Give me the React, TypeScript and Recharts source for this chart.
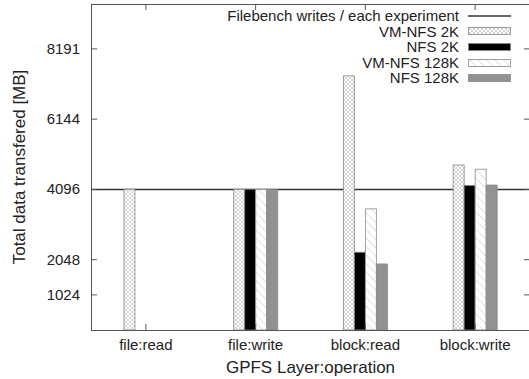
import { Bar, BarChart, ReferenceLine, XAxis, YAxis } from "recharts";

const categories = ["file:read", "file:write", "block:read", "block:write"];
const vmNfs2k = [4100, 4100, 7410, 4810];
const nfs2k = [null, 4100, 2265, 4210];
const vmNfs128k = [null, 4100, 3530, 4685];
const nfs128k = [null, 4100, 1925, 4225];
const yTicks = [1024, 2048, 4096, 6144, 8191];
const filebenchWrites = 4096;

const data = categories.map((name, i) => ({
  name,
  vmNfs2k: vmNfs2k[i],
  nfs2k: nfs2k[i],
  vmNfs128k: vmNfs128k[i],
  nfs128k: nfs128k[i],
}));

const W = 531;
const H = 379;
const PLOT_LEFT = 91;
const PLOT_TOP = 4;
const PLOT_RIGHT = 530;
const PLOT_BOTTOM = 330;

const font = '"Liberation Sans", Arial, Helvetica, sans-serif';
const textColor = "#222";
const frameColor = "#555";

const series = [
  { key: "vmNfs2k", name: "VM-NFS 2K", fill: "url(#pat-cross)" },
  { key: "nfs2k", name: "NFS 2K", fill: "#000" },
  { key: "vmNfs128k", name: "VM-NFS 128K", fill: "url(#pat-diag)" },
  { key: "nfs128k", name: "NFS 128K", fill: "#929292" },
];

function XTick({ x, y, payload }: any) {
  return (
    <g>
      <line x1={x} x2={x} y1={PLOT_BOTTOM} y2={PLOT_BOTTOM - 6} stroke={frameColor} />
      <line x1={x} x2={x} y1={PLOT_TOP} y2={PLOT_TOP + 6} stroke={frameColor} />
      <text x={x} y={y + 20} textAnchor="middle" fontSize={15} fill={textColor} fontFamily={font}>
        {payload.value}
      </text>
    </g>
  );
}

function YTick({ x, y, payload }: any) {
  return (
    <g>
      <line x1={PLOT_LEFT} x2={PLOT_LEFT + 6} y1={y} y2={y} stroke={frameColor} />
      <line x1={PLOT_RIGHT - 6} x2={PLOT_RIGHT} y1={y} y2={y} stroke={frameColor} />
      <text x={x - 11} y={y + 5} textAnchor="end" fontSize={15} fill={textColor} fontFamily={font}>
        {payload.value}
      </text>
    </g>
  );
}

function Patterns() {
  return (
    <svg width={0} height={0} style={{ position: "absolute" }}>
      <defs>
        <pattern id="pat-cross" width={4} height={4} patternUnits="userSpaceOnUse">
          <rect width={4} height={4} fill="#fff" />
          <path d="M0,0 L4,4 M4,0 L0,4" stroke="#b4b4b4" strokeWidth={0.6} />
        </pattern>
        <pattern id="pat-diag" width={6} height={6} patternUnits="userSpaceOnUse" patternTransform="rotate(-45)">
          <rect width={6} height={6} fill="#fff" />
          <line x1={0} y1={0} x2={0} y2={6} stroke="#c4c4c4" strokeWidth={1} />
        </pattern>
      </defs>
    </svg>
  );
}

function LegendBox() {
  const rowStyle = {
    display: "flex",
    alignItems: "center",
    justifyContent: "flex-end",
    height: 15.6,
  } as const;
  return (
    <div style={{ position: "absolute", top: 8, right: 18, fontSize: 15, color: textColor, fontFamily: font, lineHeight: "15.6px" }}>
      <div style={rowStyle}>
        <span>Filebench writes / each experiment</span>
        <svg width={43} height={8} style={{ marginLeft: 9 }}>
          <line x1={0} x2={43} y1={4} y2={4} stroke="#333" strokeWidth={1.5} />
        </svg>
      </div>
      {series.map((s) => (
        <div key={s.key} style={rowStyle}>
          <span>{s.name}</span>
          <svg width={43} height={8} style={{ marginLeft: 9 }}>
            <rect x={0.5} y={0.5} width={42} height={7} fill={s.fill} stroke="#888" strokeWidth={0.8} />
          </svg>
        </div>
      ))}
    </div>
  );
}

export default function App() {
  return (
    <div style={{ position: "relative", width: 529, height: 379, overflow: "hidden", fontFamily: font, background: "#fff" }}>
      <style>{`body{margin:0}`}</style>
      <Patterns />
      <BarChart
        width={W}
        height={H}
        data={data}
        margin={{ top: PLOT_TOP, right: W - PLOT_RIGHT, bottom: 0, left: 0 }}
        barCategoryGap="30%"
        barGap={0}
      >
        <XAxis
          dataKey="name"
          height={H - PLOT_BOTTOM}
          axisLine={false}
          tickLine={false}
          tickSize={0}
          tickMargin={0}
          tick={<XTick />}
          interval={0}
          label={{
            content: ({ viewBox }: any) => (
              <text
                x={viewBox.x + viewBox.width / 2}
                y={viewBox.y + 43}
                textAnchor="middle"
                fontSize={17}
                fill={textColor}
                fontFamily={font}
              >
                GPFS Layer:operation
              </text>
            ),
          }}
        />
        <YAxis
          type="number"
          domain={[0, 9500]}
          ticks={yTicks}
          width={PLOT_LEFT}
          axisLine={false}
          tickLine={false}
          tickSize={0}
          tickMargin={0}
          tick={<YTick />}
          interval={0}
          label={{
            content: ({ viewBox }: any) => {
              const cx = 19;
              const cy = viewBox.y + viewBox.height / 2;
              return (
                <text
                  x={cx}
                  y={cy}
                  transform={`rotate(-90, ${cx}, ${cy})`}
                  textAnchor="middle"
                  dominantBaseline="central"
                  fontSize={17}
                  fill={textColor}
                  fontFamily={font}
                >
                  Total data transfered [MB]
                </text>
              );
            },
          }}
        />
        <ReferenceLine y={filebenchWrites} stroke="#333" strokeWidth={1.5} zIndex={100} />
        {series.map((s) => (
          <Bar
            key={s.key}
            dataKey={s.key}
            name={s.name}
            fill={s.fill}
            stroke="#888"
            strokeWidth={0.8}
            isAnimationActive={false}
          />
        ))}
      </BarChart>
      <div
        style={{
          position: "absolute",
          left: PLOT_LEFT - 0.5,
          top: PLOT_TOP - 0.5,
          width: PLOT_RIGHT - PLOT_LEFT + 1,
          height: PLOT_BOTTOM - PLOT_TOP + 1,
          border: `1px solid ${frameColor}`,
          boxSizing: "border-box",
          pointerEvents: "none",
        }}
      />
      <LegendBox />
    </div>
  );
}
